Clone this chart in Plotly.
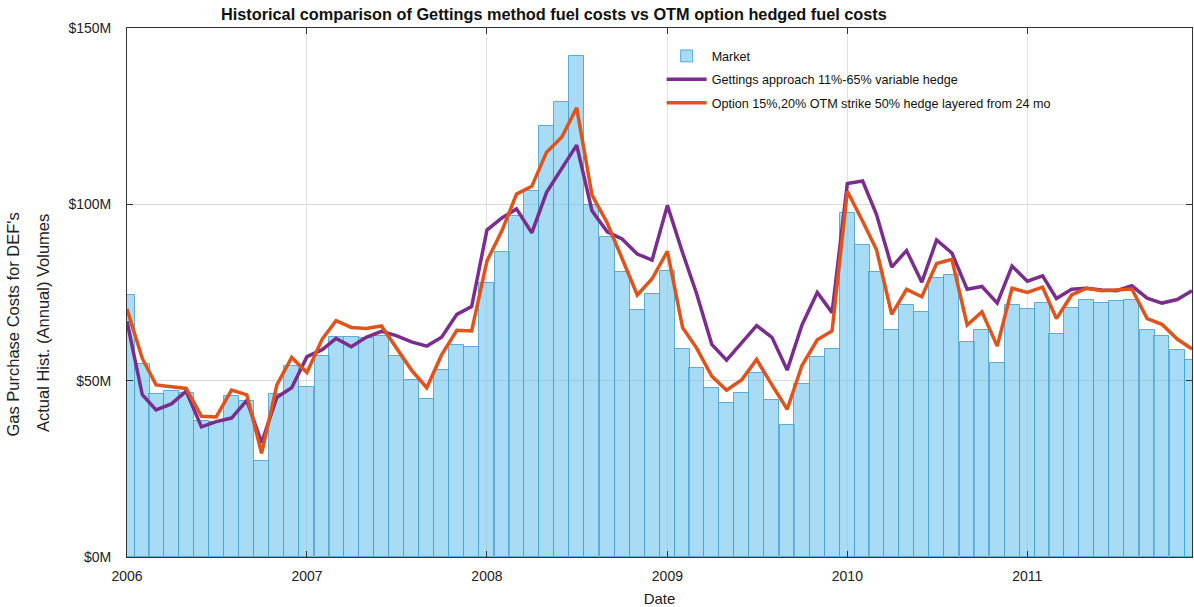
import plotly.graph_objects as go
import pandas as pd

months = pd.date_range("2006-01-01", "2011-12-01", freq="MS")

market = [
    74.3, 54.6, 46.1, 47.0, 46.6, 38.6, 38.4, 45.6, 44.3, 27.1, 46.3, 54.1,
    48.1, 57.1, 62.3, 62.3, 62.0, 62.8, 57.1, 50.3, 44.9, 53.0, 60.0, 59.5,
    77.7, 86.5, 96.7, 103.7, 122.3, 129.1, 142.0, 99.9, 90.7, 80.9, 70.0, 74.5,
    81.0, 59.0, 53.5, 47.8, 43.7, 46.5, 52.1, 44.5, 37.4, 49.0, 56.6, 59.1,
    97.5, 88.5, 80.7, 64.3, 71.5, 69.6, 79.0, 80.0, 61.1, 64.3, 55.0, 71.5,
    70.3, 72.0, 63.1, 70.6, 72.8, 72.0, 72.5, 72.8, 64.3, 62.6, 58.6, 56.0,
]

gettings = [
    66.8, 46.0, 41.7, 43.4, 47.0, 36.9, 38.4, 39.4, 44.4, 32.4, 45.3, 48.0,
    56.8, 58.8, 62.0, 59.6, 62.3, 64.0, 62.8, 61.0, 59.8, 62.3, 68.8, 71.0,
    92.7, 96.2, 98.7, 91.9, 103.4, 110.1, 116.8, 98.2, 92.2, 90.2, 85.9, 84.2,
    99.7, 86.2, 74.8, 60.3, 55.8, 60.8, 65.6, 62.3, 53.0, 65.8, 75.0, 69.3,
    105.9, 106.6, 97.2, 82.2, 86.9, 77.9, 89.9, 86.2, 75.9, 76.7, 72.0, 82.5,
    78.2, 79.7, 73.3, 75.9, 76.2, 75.7, 75.5, 76.9, 73.4, 72.0, 73.0, 75.5,
]

option = [
    70.3, 56.3, 48.8, 48.3, 47.8, 39.9, 39.7, 47.3, 46.0, 29.4, 48.8, 56.6,
    52.3, 61.8, 67.0, 65.1, 64.8, 65.5, 59.3, 53.0, 48.0, 57.3, 64.3, 64.1,
    83.9, 92.7, 102.9, 105.1, 114.8, 119.1, 127.4, 102.7, 94.7, 84.7, 74.3, 78.9,
    86.7, 65.0, 59.3, 51.3, 47.3, 50.3, 56.0, 48.8, 41.9, 54.3, 61.6, 64.1,
    103.7, 95.2, 87.2, 68.8, 75.9, 73.8, 83.2, 84.4, 65.8, 69.5, 59.8, 76.2,
    75.0, 76.5, 67.6, 74.3, 76.2, 75.5, 75.7, 76.0, 67.6, 66.0, 61.8, 59.0,
]

y_ticks = [0, 50, 100, 150]
y_tick_labels = ["$0M", "$50M", "$100M", "$150M"]

FONT = "Liberation Sans, Arial, sans-serif"
month_ms = 365.25 / 12 * 24 * 3600 * 1000

L, R, T, B = 127, 2, 28, 50
W, H = 1194, 607
plot_w = W - L - R

fig = go.Figure()
fig.add_trace(go.Bar(
    x=months, y=market, name="Market", legendgroup="a",
    width=month_ms,
    marker=dict(color="rgba(108,197,237,0.6)",
                line=dict(color="rgba(70,160,210,0.85)", width=1)),
))
fig.add_trace(go.Scatter(
    x=months, y=gettings, name="Gettings approach 11%-65% variable hedge",
    legendgroup="b", mode="lines",
    line=dict(color="#7B2D8E", width=3.5),
))
fig.add_trace(go.Scatter(
    x=months, y=option, name="Option 15%,20% OTM strike 50% hedge layered from 24 mo",
    legendgroup="c", mode="lines",
    line=dict(color="#E0531B", width=3.5),
))

fig.update_layout(
    width=W, height=H,
    margin=dict(l=L, r=R, t=T, b=B),
    paper_bgcolor="white", plot_bgcolor="white",
    font=dict(family=FONT, size=13, color="#222"),
    bargap=0,
    showlegend=True,
    legend=dict(x=0.502, y=0.975, xanchor="left", yanchor="top",
                bgcolor="rgba(255,255,255,0)", font=dict(size=12.6, color="#111"),
                itemwidth=40, tracegroupgap=4),
    xaxis=dict(
        type="date", range=[months[0], months[-1]],
        dtick="M12", tick0="2006-01-01", tickformat="%Y",
        showgrid=True, gridcolor="#E2E2E2", gridwidth=1,
        showline=True, linecolor="#333", linewidth=1, mirror="ticks",
        ticks="inside", ticklen=6, tickcolor="#333",
        tickfont=dict(size=14, color="#222"), ticklabelstandoff=6,
        title=dict(text="Date", font=dict(size=15, color="#222"), standoff=14),
        zeroline=False, automargin=False,
    ),
    yaxis=dict(
        range=[0, 150], tickvals=y_ticks, ticktext=y_tick_labels,
        showgrid=True, gridcolor="#DADADA", gridwidth=1,
        showline=True, linecolor="#333", linewidth=1, mirror="ticks",
        ticks="inside", ticklen=6, tickcolor="#333",
        tickfont=dict(size=14, color="#222"), ticklabelstandoff=12,
        zeroline=False, automargin=False,
    ),
    annotations=[
        dict(text="<b>Historical comparison of Gettings method fuel costs vs OTM option hedged fuel costs</b>",
             x=(554 - L) / plot_w, y=1, xref="paper", yref="paper", yanchor="bottom", xanchor="center",
             yshift=3, showarrow=False, font=dict(size=16.3, color="#111")),
        dict(text="Gas Purchase Costs for DEF's", x=(12.5 - L) / plot_w, y=(H - B - 325) / (H - T - B),
             xref="paper", yref="paper",
             xanchor="center", yanchor="middle", textangle=-90, showarrow=False,
             font=dict(size=16.5, color="#222")),
        dict(text="Actual Hist. (Annual) Volumes", x=(43 - L) / plot_w, y=(H - B - 323) / (H - T - B),
             xref="paper", yref="paper",
             xanchor="center", yanchor="middle", textangle=-90, showarrow=False,
             font=dict(size=16.5, color="#222")),
    ],
)

fig.write_html("out.html",
               config={"displayModeBar": False},
               post_script="document.body.style.margin='0';document.body.style.overflow='hidden';")
